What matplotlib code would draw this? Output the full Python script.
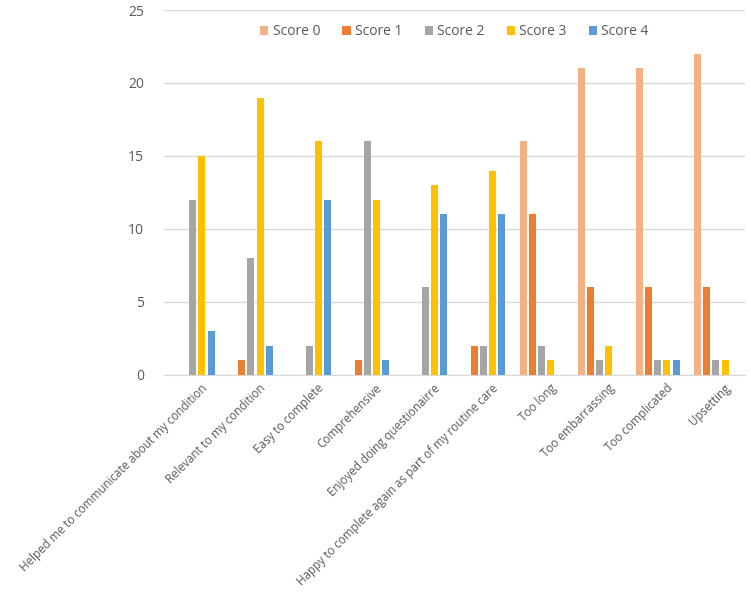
import numpy as np
import matplotlib
matplotlib.use("Agg")
import matplotlib.pyplot as plt
import matplotlib.transforms as mtransforms

plt.rcParams['font.family'] = ['Open Sans', 'DejaVu Sans']

categories = [
    "Helped me to communicate about my condition",
    "Relevant to my condition",
    "Easy to complete",
    "Comprehensive",
    "Enjoyed doing questionairre",
    "Happy to complete again as part of my routine care",
    "Too long",
    "Too embarrassing",
    "Too complicated",
    "Upsetting",
]
score_labels = ["Score 0", "Score 1", "Score 2", "Score 3", "Score 4"]
score0 = [0, 0, 0, 0, 0, 0, 16, 21, 21, 22]
score1 = [0, 1, 0, 1, 0, 2, 11, 6, 6, 6]
score2 = [12, 8, 2, 16, 6, 2, 2, 1, 1, 1]
score3 = [15, 19, 16, 12, 13, 14, 1, 2, 1, 1]
score4 = [3, 2, 12, 1, 11, 11, 0, 0, 1, 0]
colors = ["#F4B183", "#ED7D31", "#A5A5A5", "#FFC000", "#5B9BD5"]

series = [score0, score1, score2, score3, score4]

fig = plt.figure(figsize=(7.51, 5.92), dpi=100)
ax = fig.add_axes([0.218, 0.367, 0.774, 0.616])

x = np.arange(len(categories))
slot = 0.157
width = 0.12
for i, (vals, lab, col) in enumerate(zip(series, score_labels, colors)):
    ax.bar(x + (i - 2) * slot, vals, width, color=col, label=lab, zorder=3)

ax.set_xlim(-0.5, len(categories) - 0.5)
ax.set_ylim(0, 25)
ax.set_yticks(range(0, 26, 5))
ax.grid(axis='y', color='#D9D9D9', linewidth=1, zorder=0)
for s in ['top', 'right', 'left']:
    ax.spines[s].set_visible(False)
ax.spines['bottom'].set_color('#D9D9D9')
ax.tick_params(axis='both', length=0, colors='#595959')
ax.tick_params(axis='y', pad=14, labelsize=10)
ax.tick_params(axis='x', pad=5, labelsize=8.4)
ax.set_xticks(x)
ax.set_xticklabels(categories, rotation=45, ha='right', va='top',
                   rotation_mode='anchor')
shift = mtransforms.ScaledTranslation(6 / 72, 0, fig.dpi_scale_trans)
for t in ax.get_xticklabels():
    t.set_transform(t.get_transform() + shift)

ax.legend(loc='upper center', bbox_to_anchor=(0.5, 0.995), ncol=5, frameon=False,
          handlelength=0.6, handleheight=0.6, handletextpad=0.3, columnspacing=1.6,
          fontsize=10, labelcolor='#595959')

fig.savefig("out.png", dpi=100)
